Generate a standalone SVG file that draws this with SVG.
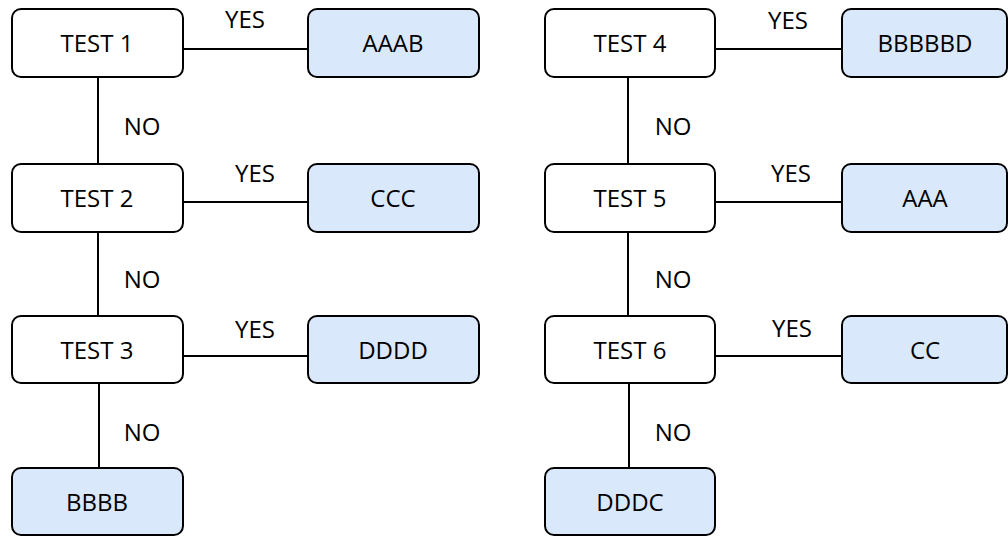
<svg xmlns="http://www.w3.org/2000/svg" width="1008" height="536" viewBox="0 0 1008 536">
<style>
.t{fill:#fff;stroke:#000;stroke-width:2}
.l{fill:#dae8fc;stroke:#000;stroke-width:2}
text{font-family:"Open Sans","Liberation Sans",Arial,sans-serif;font-size:24px;fill:#000}
.c{text-anchor:middle;dominant-baseline:central}
#connectors line{stroke:#000;stroke-width:2}
</style>
<rect width="1008" height="536" fill="#fff"/>
<g id="connectors">
<line x1="183" y1="49" x2="308" y2="49"/>
<line x1="183" y1="202" x2="308" y2="202"/>
<line x1="183" y1="356" x2="308" y2="356"/>
<line x1="98" y1="77" x2="98" y2="164"/>
<line x1="98" y1="232" x2="98" y2="316"/>
<line x1="99" y1="383" x2="99" y2="468"/>
<line x1="715" y1="49" x2="842" y2="49"/>
<line x1="715" y1="202" x2="842" y2="202"/>
<line x1="715" y1="356" x2="842" y2="356"/>
<line x1="628" y1="77" x2="628" y2="164"/>
<line x1="628" y1="232" x2="628" y2="316"/>
<line x1="629" y1="383" x2="629" y2="468"/>
<text class="c" x="245" y="18">YES</text>
<text class="c" x="255" y="172">YES</text>
<text class="c" x="255" y="328">YES</text>
<text class="c" x="788" y="19">YES</text>
<text class="c" x="791" y="172">YES</text>
<text class="c" x="792" y="327">YES</text>
<text class="c" x="142" y="125">NO</text>
<text class="c" x="142" y="278">NO</text>
<text class="c" x="142" y="431">NO</text>
<text class="c" x="673" y="125">NO</text>
<text class="c" x="673" y="278">NO</text>
<text class="c" x="673" y="431">NO</text>
</g>
<g id="test1"><rect class="t" x="12" y="9" width="171" height="68" rx="9"/><text class="c" x="97" y="42">TEST 1</text></g>
<g id="aaab"><rect class="l" x="308" y="9" width="171" height="68" rx="9"/><text class="c" x="393" y="42">AAAB</text></g>
<g id="test2"><rect class="t" x="12" y="164" width="171" height="68" rx="9"/><text class="c" x="97" y="197">TEST 2</text></g>
<g id="ccc"><rect class="l" x="308" y="164" width="171" height="68" rx="9"/><text class="c" x="393" y="197">CCC</text></g>
<g id="test3"><rect class="t" x="12" y="316" width="171" height="67" rx="9"/><text class="c" x="97" y="349">TEST 3</text></g>
<g id="dddd"><rect class="l" x="308" y="316" width="171" height="67" rx="9"/><text class="c" x="393" y="349">DDDD</text></g>
<g id="bbbb"><rect class="l" x="12" y="468" width="171" height="67" rx="9"/><text class="c" x="97" y="501">BBBB</text></g>
<g id="test4"><rect class="t" x="545" y="9" width="170" height="68" rx="9"/><text class="c" x="630" y="42">TEST 4</text></g>
<g id="bbbbbd"><rect class="l" x="842" y="9" width="165" height="68" rx="9"/><text class="c" x="925" y="42">BBBBBD</text></g>
<g id="test5"><rect class="t" x="545" y="164" width="170" height="68" rx="9"/><text class="c" x="630" y="197">TEST 5</text></g>
<g id="aaa"><rect class="l" x="842" y="164" width="165" height="68" rx="9"/><text class="c" x="925" y="197">AAA</text></g>
<g id="test6"><rect class="t" x="545" y="316" width="170" height="67" rx="9"/><text class="c" x="630" y="349">TEST 6</text></g>
<g id="cc"><rect class="l" x="842" y="316" width="165" height="67" rx="9"/><text class="c" x="925" y="349">CC</text></g>
<g id="dddc"><rect class="l" x="545" y="468" width="170" height="67" rx="9"/><text class="c" x="630" y="501">DDDC</text></g>
</svg>
